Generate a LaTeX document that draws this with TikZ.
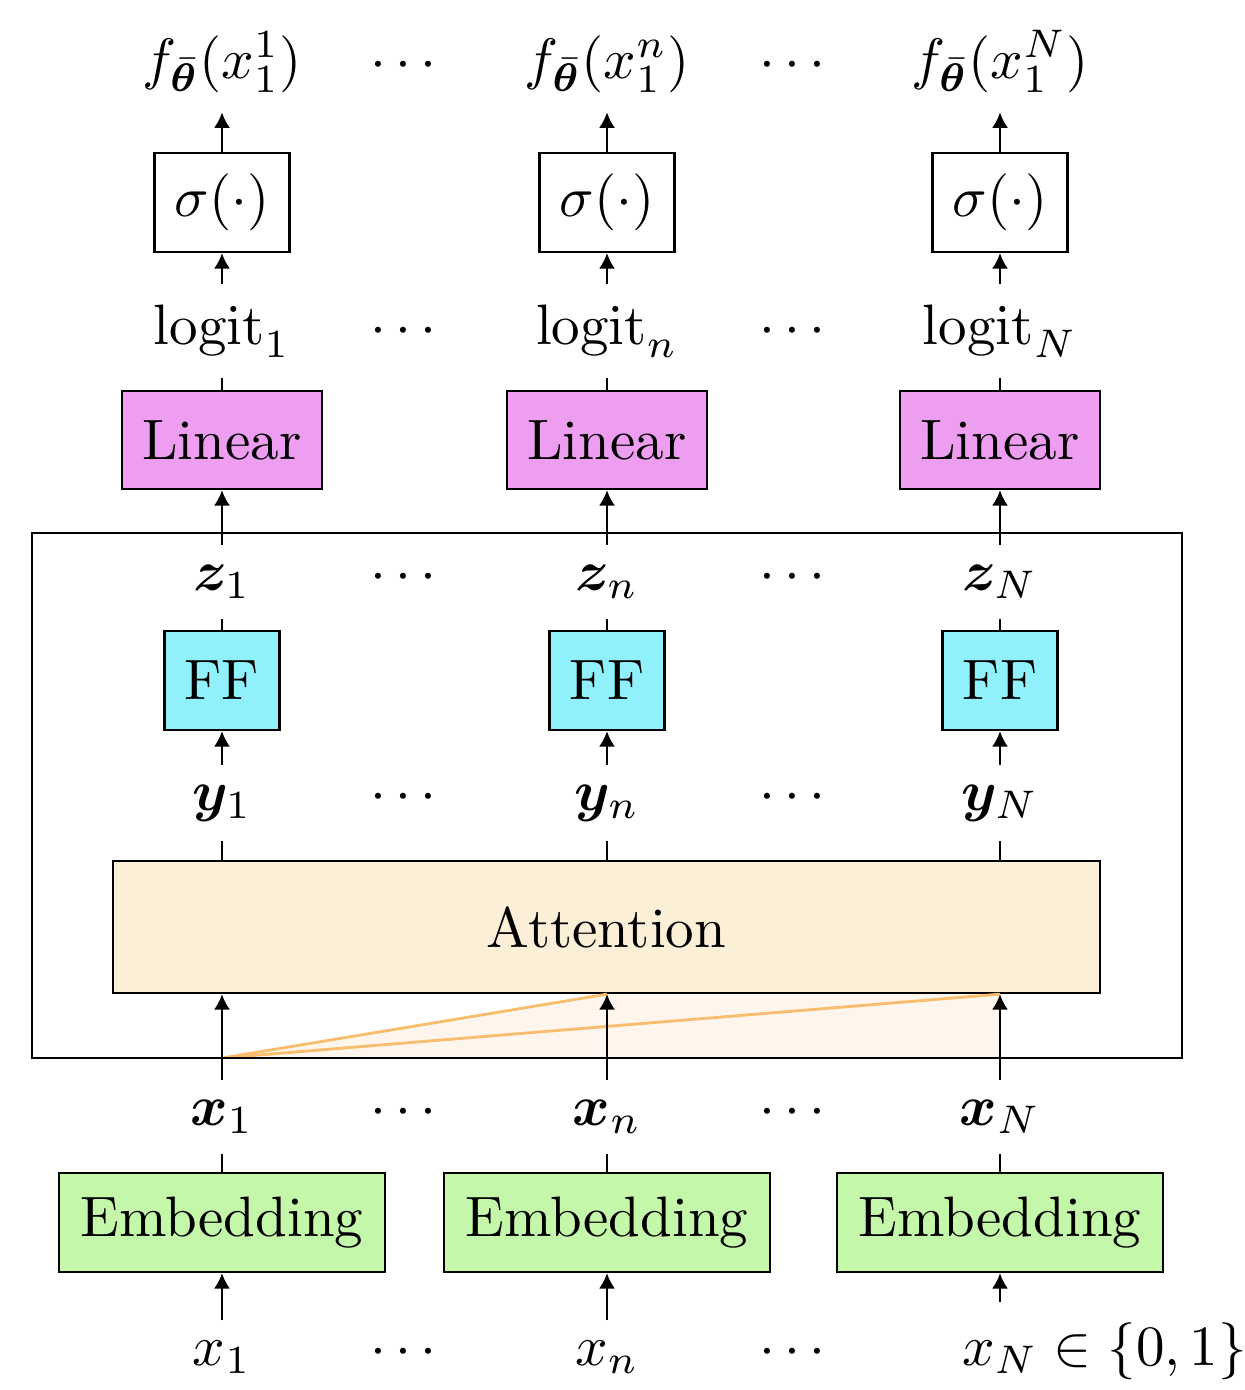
\documentclass[tikz,border=0pt]{standalone}
\usepackage{amsmath}
\usepackage{bm}
\usetikzlibrary{arrows.meta}

\definecolor{linfill}{RGB}{237,158,240}
\definecolor{fffill}{RGB}{144,240,252}
\definecolor{embfill}{RGB}{197,247,170}
\definecolor{attfill}{RGB}{252,239,216}
\definecolor{fanline}{RGB}{248,190,110}
\definecolor{fanfill}{RGB}{254,246,237}

\newdimen\pxu
\pxu=0.17544pt

\tikzset{
  lab/.style={anchor=base},
  blk/.style={draw, minimum height=99*\pxu, inner sep=0pt},
  sigbox/.style={blk, minimum width=135*\pxu},
  linbox/.style={blk, fill=linfill, minimum width=200*\pxu, minimum height=98*\pxu},
  ffbox/.style={blk, fill=fffill, minimum width=115*\pxu},
  embbox/.style={blk, fill=embfill, minimum width=326*\pxu},
  attbox/.style={blk, fill=attfill, minimum width=987*\pxu, minimum height=132*\pxu},
  arr/.style={-{Latex[length=2.7pt,width=2.8pt]}},
}

\begin{document}
\begin{tikzpicture}[x=0.17544pt, y=-0.17544pt]
\useasboundingbox (0,0) rectangle (1245,1390);

% column positions
\def\ca{222}\def\cb{607}\def\cc{1000}
\def\da{408}\def\db{797}

% output row
\node[lab] (f1) at (\ca,78) {$f_{\bar{\bm\theta}}(x_1^1)$};
\node[lab] (f2) at (\cb,78) {$f_{\bar{\bm\theta}}(x_1^n)$};
\node[lab] (f3) at (\cc,78) {$f_{\bar{\bm\theta}}(x_1^N)$};
\node[lab] (fd1) at (\da,78) {$\cdots$};
\node[lab] (fd2) at (\db,78) {$\cdots$};

% sigmoid boxes
\node[sigbox] (s1) at (\ca,202.5) {$\sigma(\cdot)$};
\node[sigbox] (s2) at (\cb,202.5) {$\sigma(\cdot)$};
\node[sigbox] (s3) at (\cc,202.5) {$\sigma(\cdot)$};

% logits
\node[lab] (g1) at (\ca,344) {$\mathrm{logit}_1$};
\node[lab] (g2) at (\cb,344) {$\mathrm{logit}_n$};
\node[lab] (g3) at (\cc,344) {$\mathrm{logit}_N$};
\node[lab] (gd1) at (\da,344) {$\cdots$};
\node[lab] (gd2) at (\db,344) {$\cdots$};

% linear heads
\node[linbox] (l1) at (\ca,440) {Linear};
\node[linbox] (l2) at (\cb,440) {Linear};
\node[linbox] (l3) at (\cc,440) {Linear};

% transformer block frame and attention fan (drawn first, under the rest)
\coordinate (o) at (\ca,1058);
\node[attbox] (att) at (606.5,927) {Attention};
\node[lab] (xb1) at (\ca,1125) {$\bm x_1$};
\node[lab] (xb2) at (\cb,1125) {$\bm x_n$};
\node[lab] (xb3) at (\cc,1125) {$\bm x_N$};
\node[lab] (xbd1) at (\da,1125) {$\cdots$};
\node[lab] (xbd2) at (\db,1125) {$\cdots$};

\fill[fanfill] (o) -- (att.south -| xb2) -- (att.south -| xb3) -- (o -| xb3) -- cycle;
\draw[fanline, line width=0.5pt] (o) -- (att.south -| xb2);
\draw[fanline, line width=0.5pt] (o) -- (att.south -| xb3);
\draw[fanline, line width=0.5pt] (o) -- (o -| xb3);
\draw (32,533) rectangle (1182,1058);

% block outputs
\node[lab] (z1) at (\ca,590) {$\bm z_1$};
\node[lab] (z2) at (\cb,590) {$\bm z_n$};
\node[lab] (z3) at (\cc,590) {$\bm z_N$};
\node[lab] (zd1) at (\da,590) {$\cdots$};
\node[lab] (zd2) at (\db,590) {$\cdots$};

% feed-forward boxes
\node[ffbox] (ff1) at (\ca,680.5) {FF};
\node[ffbox] (ff2) at (\cb,680.5) {FF};
\node[ffbox] (ff3) at (\cc,680.5) {FF};

% attention outputs
\node[lab] (y1) at (\ca,810) {$\bm y_1$};
\node[lab] (y2) at (\cb,810) {$\bm y_n$};
\node[lab] (y3) at (\cc,810) {$\bm y_N$};
\node[lab] (yd1) at (\da,810) {$\cdots$};
\node[lab] (yd2) at (\db,810) {$\cdots$};

% embeddings
\node[embbox] (e1) at (\ca,1222.5) {Embedding};
\node[embbox] (e2) at (\cb,1222.5) {Embedding};
\node[embbox] (e3) at (\cc,1222.5) {Embedding};

% inputs
\node[lab] (in1) at (\ca,1365) {$x_1$};
\node[lab] (in2) at (\cb,1365) {$x_n$};
\node[lab] (in3) at (\cc,1365) {$x_N\rlap{${}\in\{0,1\}$}$};
\node[lab] (ind1) at (\da,1365) {$\cdots$};
\node[lab] (ind2) at (\db,1365) {$\cdots$};

% connectors, bottom to top
\foreach \i in {1,2,3} {
  \draw[arr] (in\i) -- (e\i);
  \draw (e\i) -- (xb\i);
  \draw[arr] (xb\i.north) -- (xb\i.north |- att.south);
  \draw (y\i.south |- att.north) -- (y\i.south);
  \draw[arr] (y\i) -- (ff\i);
  \draw (ff\i) -- (z\i);
  \draw[arr] (z\i) -- (l\i);
  \draw (l\i) -- (g\i);
  \draw[arr] (g\i) -- (s\i);
  \draw[arr] (s\i) -- (f\i);
}
\end{tikzpicture}
\end{document}
